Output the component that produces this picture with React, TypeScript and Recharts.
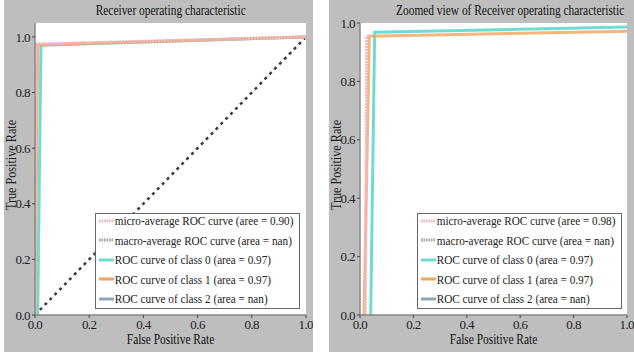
import React from 'react';
import { LineChart, Line, XAxis, YAxis, CartesianGrid } from 'recharts';

/* ─── Data ─────────────────────────────────────────── */

const TICKS = [0, 0.2, 0.4, 0.6, 0.8, 1.0];

// left panel: full ROC
const fullDiagonal = [
	{ x: 0, y: 0 },
	{ x: 1, y: 1 },
];
const fullMicro = [
	{ x: 0, y: 0 },
	{ x: 0.005, y: 0.975 },
	{ x: 0.03, y: 0.975 },
	{ x: 1, y: 1 },
];
const fullClass0 = [
	{ x: 0.01, y: 0 },
	{ x: 0.022, y: 0.97 },
	{ x: 1, y: 1 },
];
const fullClass1 = [
	{ x: 0, y: 0 },
	{ x: 0.01, y: 0.97 },
	{ x: 0.03, y: 0.972 },
	{ x: 1, y: 1 },
];

// right panel: zoomed view
const zoomMicro = [
	{ x: 0.02, y: 0 },
	{ x: 0.025, y: 0.955 },
	{ x: 0.04, y: 0.955 },
];
const zoomClass0 = [
	{ x: 0.04, y: 0 },
	{ x: 0.055, y: 0.968 },
	{ x: 1, y: 0.986 },
];
const zoomClass1 = [
	{ x: 0.015, y: 0 },
	{ x: 0.035, y: 0.955 },
	{ x: 1, y: 0.972 },
];

const leftLegend = [
	{ label: 'micro-average ROC curve (aree = 0.90)', color: '#f2b6c4', dash: '2 1' },
	{ label: 'macro-average ROC curve (area = nan)', color: '#a8a8b0', dash: '2 1' },
	{ label: 'ROC curve of class 0 (area = 0.97)', color: '#6fdcd4', dash: '' },
	{ label: 'ROC curve of class 1 (area  = 0.97)', color: '#f0a45a', dash: '' },
	{ label: 'ROC curve of class 2 (area = nan)', color: '#8aa9b4', dash: '' },
];
const rightLegend = [
	{ label: 'micro-average ROC curve (aree = 0.98)', color: '#f2b6c4', dash: '2 1' },
	{ label: 'macro-average ROC curve (area = nan)', color: '#a8a8b0', dash: '2 1' },
	{ label: 'ROC curve of class 0 (area = 0.97)', color: '#6fdcd4', dash: '' },
	{ label: 'ROC curve of class 1 (area  = 0.97)', color: '#f0a45a', dash: '' },
	{ label: 'ROC curve of class 2 (area = nan)', color: '#8aa9b4', dash: '' },
];

/* ─── Shared style ─────────────────────────────────── */

const FONT = '"Times New Roman", Times, "Liberation Serif", serif';
const PANEL_BG = '#bebebe';
const TICK_STYLE = { fontSize: 13, fontFamily: FONT, fill: '#222', letterSpacing: -0.6 };

type Entry = { label: string; color: string; dash: string };

function LegendBox({ items, left, width }: { items: Entry[]; left: number; width: number }) {
	return (
		<div
			style={{
				position: 'absolute',
				left,
				top: 213,
				width,
				height: 96,
				boxSizing: 'border-box',
				background: '#fff',
				border: '1.5px solid #666',
				padding: '0 0 0 3px',
				overflow: 'hidden',
			}}
		>
			<div
				style={{
					marginTop: -3,
					width: 300,
					fontFamily: FONT,
					fontSize: 13.5,
					color: '#222',
					lineHeight: '19.5px',
					whiteSpace: 'nowrap',
					transform: 'scaleX(0.83)',
					transformOrigin: 'left top',
				}}
			>
				{items.map((it) => (
					<div key={it.label} style={{ display: 'flex', alignItems: 'center' }}>
						<svg width={18} height={6} style={{ marginRight: 1, flexShrink: 0 }}>
							<line
								x1={0}
								y1={3}
								x2={18}
								y2={3}
								stroke={it.color}
								strokeWidth={3}
								strokeDasharray={it.dash || undefined}
							/>
						</svg>
						{it.label}
					</div>
				))}
			</div>
		</div>
	);
}

function Panel({
	left,
	width,
	title,
	yMax,
	legend,
	legendLeft,
	children,
}: {
	left: number;
	width: number;
	title: string;
	yMax: number;
	legend: Entry[];
	legendLeft: number;
	children: React.ReactNode;
}) {
	const W = width;
	const textBox: React.CSSProperties = {
		position: 'absolute',
		left: 31,
		width: W - 38,
		textAlign: 'center',
		whiteSpace: 'nowrap',
		fontFamily: FONT,
		fontSize: 15,
		color: '#111',
	};
	return (
		<div
			style={{
				position: 'absolute',
				left,
				top: 0,
				width: W,
				height: 352,
				background: PANEL_BG,
			}}
		>
			<div style={{ ...textBox, top: 2 }}>
				<span style={{ display: 'inline-block', transform: 'scaleX(0.76)' }}>{title}</span>
			</div>
			<div
				style={{
					position: 'absolute',
					left: 0,
					top: 0,
					width: 16,
					height: 330,
					display: 'flex',
					alignItems: 'center',
					justifyContent: 'center',
				}}
			>
				<span
					style={{
						transform: 'rotate(-90deg) scaleX(0.87)',
						whiteSpace: 'nowrap',
						fontFamily: FONT,
						fontSize: 14,
						color: '#222',
					}}
				>
					True Positive Rate
				</span>
			</div>
			<div style={{ ...textBox, top: 331 }}>
				<span style={{ display: 'inline-block', transform: 'scaleX(0.76)' }}>False Positive Rate</span>
			</div>
			<LineChart
				width={W}
				height={352}
				margin={{ top: 23, right: 7, bottom: 7, left: 7 }}
				style={{ position: 'absolute', left: 0, top: 0 }}
			>
				<CartesianGrid fill="#fff" horizontal={false} vertical={false} />
				<XAxis
					type="number"
					dataKey="x"
					domain={[0, 1]}
					ticks={TICKS}
					tickFormatter={(v) => v.toFixed(1)}
					tick={TICK_STYLE}
					tickSize={3}
					tickLine={{ stroke: '#444' }}
					axisLine={{ stroke: '#888', strokeWidth: 1.5 }}
					height={30}
					allowDataOverflow
				/>
				<YAxis
					type="number"
					dataKey="y"
					domain={[0, yMax]}
					ticks={TICKS}
					tickFormatter={(v) => v.toFixed(1)}
					tick={TICK_STYLE}
					tickSize={3}
					tickLine={{ stroke: '#444' }}
					axisLine={{ stroke: '#888', strokeWidth: 1.5 }}
					width={24}
					allowDataOverflow
				/>
				<XAxis
					xAxisId="top"
					orientation="top"
					type="number"
					domain={[0, 1]}
					ticks={TICKS}
					tick={false}
					tickSize={0}
					axisLine={{ stroke: '#888', strokeWidth: 1.5 }}
					height={0}
				/>
				<YAxis
					yAxisId="right"
					orientation="right"
					type="number"
					domain={[0, yMax]}
					tick={false}
					tickSize={0}
					axisLine={{ stroke: '#888', strokeWidth: 1.5 }}
					width={0}
				/>
				{children}
			</LineChart>
			<LegendBox items={legend} left={legendLeft} width={205} />
		</div>
	);
}

export default function App() {
	return (
		<div
			style={{
				position: 'absolute',
				left: 0,
				top: 0,
				width: 634,
				height: 354,
				background: '#fff',
				overflow: 'hidden',
			}}
		>
			<Panel left={4} width={309} title="Receiver operating characteristic" yMax={1.05} legend={leftLegend} legendLeft={91}>
				<Line data={fullDiagonal} dataKey="y" stroke="#3a3a3a" strokeWidth={2.5} strokeDasharray="3 4" dot={false} isAnimationActive={false} />
				<Line data={fullClass0} dataKey="y" stroke="#6fdcd4" strokeWidth={3} dot={false} isAnimationActive={false} />
				<Line data={fullClass1} dataKey="y" stroke="#f0a45a" strokeWidth={3} strokeOpacity={0.85} dot={false} isAnimationActive={false} />
				<Line data={fullMicro} dataKey="y" stroke="#f2b6c4" strokeWidth={3} strokeDasharray="2 1" dot={false} isAnimationActive={false} />
			</Panel>
			<Panel left={329} width={305} title="Zoomed view of Receiver operating characteristic" yMax={1} legend={rightLegend} legendLeft={88}>
				<Line data={zoomClass0} dataKey="y" stroke="#6fdcd4" strokeWidth={3} dot={false} isAnimationActive={false} />
				<Line data={zoomClass1} dataKey="y" stroke="#f0a45a" strokeWidth={3} strokeOpacity={0.8} dot={false} isAnimationActive={false} />
				<Line data={zoomMicro} dataKey="y" stroke="#f2b6c4" strokeWidth={3} strokeDasharray="2 1" dot={false} isAnimationActive={false} />
			</Panel>
		</div>
	);
}
